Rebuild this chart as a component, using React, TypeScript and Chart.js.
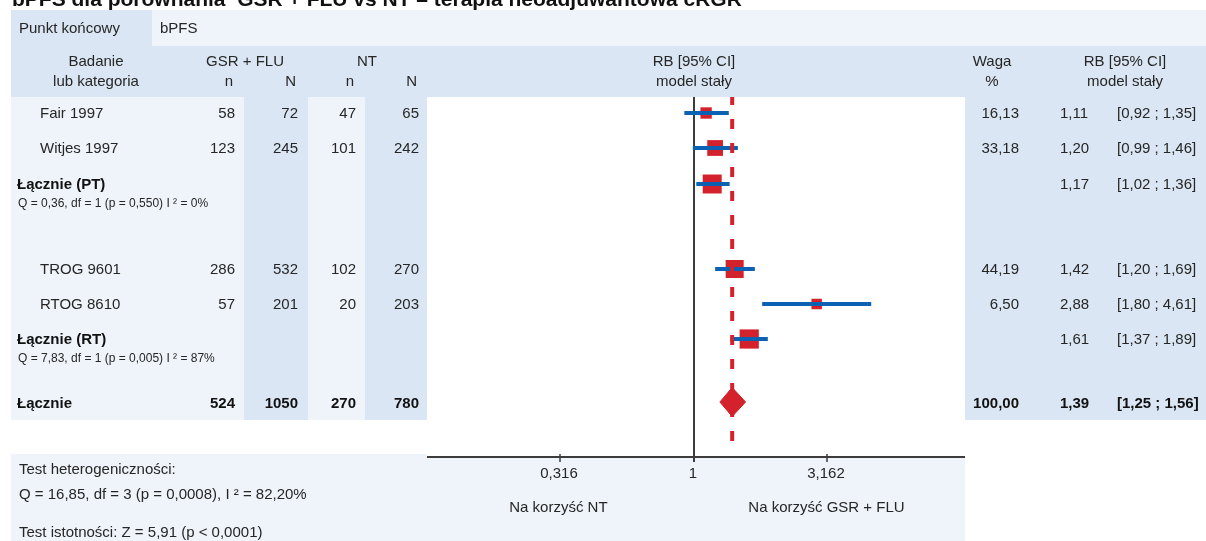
import React, { useEffect, useRef } from "react";
import { Chart, registerables } from "chart.js";

Chart.register(...registerables);

// ---------- data ----------
const titleText = "bPFS dla porównania  GSR + FLU vs NT – terapia neoadjuwantowa cRGR";
const endpointLabel = "Punkt końcowy";
const endpointValue = "bPFS";

const studyNames = ["Fair 1997", "Witjes 1997", "TROG 9601", "RTOG 8610"];
const gsrEvents = [58, 123, 286, 57];
const gsrTotal = [72, 245, 532, 201];
const ntEvents = [47, 101, 102, 20];
const ntTotal = [65, 242, 270, 203];
const studyWeights = [16.13, 33.18, 44.19, 6.5];
const studyRb = [1.11, 1.2, 1.42, 2.88];
const studyLow = [0.92, 0.99, 1.2, 1.8];
const studyHigh = [1.35, 1.46, 1.69, 4.61];
const studyGroup = [0, 0, 1, 1];

const subgroupNames = ["Łącznie (PT)", "Łącznie (RT)"];
const subgroupRb = [1.17, 1.61];
const subgroupLow = [1.02, 1.37];
const subgroupHigh = [1.36, 1.89];
const subgroupStats = [
  "Q = 0,36, df = 1 (p = 0,550) I ² = 0%",
  "Q = 7,83, df = 1 (p = 0,005) I ² = 87%",
];

const totalName = "Łącznie";
const totalCounts = [524, 1050, 270, 780];
const totalWeight = 100.0;
const totalRb = 1.39;
const totalLow = 1.25;
const totalHigh = 1.56;

const xTicks = [0.316, 1, 3.162];
const favourLeft = "Na korzyść NT";
const favourRight = "Na korzyść GSR + FLU";

const footerLines = [
  "Test heterogeniczności:",
  "Q = 16,85, df = 3 (p = 0,0008), I ² = 82,20%",
  "Test istotności: Z = 5,91 (p < 0,0001)",
];

// ---------- layout / style ----------
const W = 1206;
const H = 541;
const PLOT_LEFT = 427;
const PLOT_RIGHT = 961;
const PLOT_EDGE = 965;
const PLOT_TOP = 97;
const PLOT_BOTTOM = 457;

// vertical slot of each row inside the plot area (y-scale units)
const STUDY_ROWS = [16, 51, 172, 207];
const SUBGROUP_ROWS = [87, 242];
const TOTAL_ROW = 305;
const DIAMOND_HALF = 14.5;
const OVERALL_LINE_END = 348;

const COUNT_RIGHT = [235, 298, 356, 419];
const WEIGHT_RIGHT = 1019;
const EST_LEFT = 1060;
const CI_LEFT = 1117;

const DARK = "#dae6f3";
const LIGHT = "#eef4fa";
const RED = "#d3222c";
const BLUE = "#0b62b2";
const AXIS = "#3c3c3c";
const TEXT = "#262626";
const FAMILY = '"Liberation Sans", Arial, Helvetica, sans-serif';
const F = `15px ${FAMILY}`;
const FB = `bold 15px ${FAMILY}`;
const FS = `12px ${FAMILY}`;

const fmt2 = (v: number) => v.toFixed(2).replace(".", ",");
const fmtCi = (lo: number, hi: number) => `[${fmt2(lo)} ; ${fmt2(hi)}]`;
const fmtTick = (v: number) => String(v).replace(".", ",");
const squareSide = (w: number) => Math.max(10.5, 1.2 + 2.53 * Math.sqrt(w));

const subgroupWeights = subgroupNames.map((_, g) =>
  studyWeights.reduce((s, w, i) => (studyGroup[i] === g ? s + w : s), 0)
);

function text(
  ctx: CanvasRenderingContext2D,
  s: string,
  x: number,
  y: number,
  align: CanvasTextAlign,
  font: string,
  color = TEXT
) {
  ctx.font = font;
  ctx.textAlign = align;
  ctx.textBaseline = "middle";
  ctx.fillStyle = color;
  ctx.fillText(s, x, y);
}

const forestFrame = {
  id: "forestFrame",
  beforeDraw(chart: any) {
    const ctx: CanvasRenderingContext2D = chart.ctx;
    const { left, top, bottom } = chart.chartArea;
    const rect = (c: string, x: number, y: number, w: number, h: number) => {
      ctx.fillStyle = c;
      ctx.fillRect(x, y, w, h);
    };
    ctx.save();
    rect("#ffffff", 0, 0, W, H);
    // endpoint row
    rect(LIGHT, 152, 10, W - 152, 36);
    rect(DARK, 11, 10, 141, 36);
    // column headers
    rect(DARK, 11, 46, W - 11, top - 46);
    // table body
    rect(LIGHT, 11, top, left - 11, 420 - top);
    rect(DARK, 244, top, 64, 420 - top);
    rect(DARK, 365, top, left - 365, 420 - top);
    rect(DARK, PLOT_EDGE, top, W - PLOT_EDGE, 420 - top);
    // footer
    rect(LIGHT, 11, 454, PLOT_EDGE - 11, H - 454);
    rect("#ffffff", left, top, PLOT_EDGE - left, bottom - top);
    ctx.restore();
  },
  beforeDatasetsDraw(chart: any) {
    const ctx: CanvasRenderingContext2D = chart.ctx;
    const xs = chart.scales.x;
    const { left, top, bottom } = chart.chartArea;
    ctx.save();
    ctx.strokeStyle = AXIS;
    ctx.lineWidth = 2;
    // x axis
    ctx.beginPath();
    ctx.moveTo(left, bottom);
    ctx.lineTo(PLOT_EDGE, bottom);
    ctx.stroke();
    // line of no effect
    const x1 = Math.round(xs.getPixelForValue(1));
    ctx.beginPath();
    ctx.moveTo(x1, top);
    ctx.lineTo(x1, bottom + 5);
    ctx.stroke();
    // ticks + labels
    ctx.lineWidth = 1.5;
    xTicks.forEach((t) => {
      const px = Math.round(xs.getPixelForValue(t));
      ctx.beginPath();
      ctx.moveTo(px, bottom - 3);
      ctx.lineTo(px, bottom + 5);
      ctx.stroke();
      text(ctx, fmtTick(t), px - 1, 474, "center", F);
    });
    text(ctx, favourLeft, xs.getPixelForValue(xTicks[0]) - 2, 508, "center", F);
    text(ctx, favourRight, xs.getPixelForValue(xTicks[2]) - 1, 508, "center", F);
    ctx.restore();
  },
  afterDraw(chart: any) {
    const ctx: CanvasRenderingContext2D = chart.ctx;
    const ys = chart.scales.y;
    const rowY = (v: number) => ys.getPixelForValue(v) + 1;
    ctx.save();
    // title (partly above the page edge)
    ctx.font = `bold 21px ${FAMILY}`;
    ctx.textAlign = "left";
    ctx.textBaseline = "alphabetic";
    ctx.fillStyle = "#111111";
    ctx.fillText(titleText, 12, 6);

    text(ctx, endpointLabel, 19, 29, "left", F);
    text(ctx, endpointValue, 160, 29, "left", F);

    // headers
    text(ctx, "Badanie", 96, 62, "center", F);
    text(ctx, "lub kategoria", 96, 82, "center", F);
    text(ctx, "GSR + FLU", 245, 62, "center", F);
    text(ctx, "NT", 367, 62, "center", F);
    ["n", "N", "n", "N"].forEach((h, i) => text(ctx, h, COUNT_RIGHT[i] - 2, 82, "right", F));
    text(ctx, "RB [95% CI]", 694, 62, "center", F);
    text(ctx, "model stały", 694, 82, "center", F);
    text(ctx, "Waga", 992, 62, "center", F);
    text(ctx, "%", 992, 82, "center", F);
    text(ctx, "RB [95% CI]", 1125, 62, "center", F);
    text(ctx, "model stały", 1125, 82, "center", F);

    // individual studies
    studyNames.forEach((name, i) => {
      const y = rowY(STUDY_ROWS[i]);
      text(ctx, name, 40, y, "left", F);
      [gsrEvents[i], gsrTotal[i], ntEvents[i], ntTotal[i]].forEach((v, c) =>
        text(ctx, String(v), COUNT_RIGHT[c], y, "right", F)
      );
      text(ctx, fmt2(studyWeights[i]), WEIGHT_RIGHT, y, "right", F);
      text(ctx, fmt2(studyRb[i]), EST_LEFT, y, "left", F);
      text(ctx, fmtCi(studyLow[i], studyHigh[i]), CI_LEFT, y, "left", F);
    });

    // subgroups
    subgroupNames.forEach((name, g) => {
      const y = rowY(SUBGROUP_ROWS[g]);
      text(ctx, name, 17, y, "left", FB, "#111111");
      text(ctx, subgroupStats[g], 18, y + 19, "left", FS);
      text(ctx, fmt2(subgroupRb[g]), EST_LEFT, y, "left", F);
      text(ctx, fmtCi(subgroupLow[g], subgroupHigh[g]), CI_LEFT, y, "left", F);
    });

    // overall
    const yt = rowY(TOTAL_ROW) + 1;
    text(ctx, totalName, 17, yt, "left", FB, "#111111");
    totalCounts.forEach((v, c) => text(ctx, String(v), COUNT_RIGHT[c], yt, "right", FB, "#111111"));
    text(ctx, fmt2(totalWeight), WEIGHT_RIGHT, yt, "right", FB, "#111111");
    text(ctx, fmt2(totalRb), EST_LEFT, yt, "left", FB, "#111111");
    text(ctx, fmtCi(totalLow, totalHigh), CI_LEFT, yt, "left", FB, "#111111");

    // footer
    text(ctx, footerLines[0], 19, 470, "left", F);
    text(ctx, footerLines[1], 19, 495, "left", F);
    text(ctx, footerLines[2], 19, 533, "left", F);
    ctx.restore();
  },
};

export default function App() {
  const canvasRef = useRef<HTMLCanvasElement | null>(null);

  useEffect(() => {
    const canvas = canvasRef.current;
    if (!canvas) return;

    const squares = [
      ...studyRb.map((v, i) => ({ x: v, y: STUDY_ROWS[i] })),
      ...subgroupRb.map((v, g) => ({ x: v, y: SUBGROUP_ROWS[g] })),
    ];
    const squareRadii = [
      ...studyWeights.map((w) => squareSide(w) / Math.SQRT2),
      ...subgroupWeights.map((w) => squareSide(w) / Math.SQRT2),
    ];

    const ciRows = [
      ...studyLow.map((lo, i) => ({ lo, hi: studyHigh[i], y: STUDY_ROWS[i] })),
      ...subgroupLow.map((lo, g) => ({ lo, hi: subgroupHigh[g], y: SUBGROUP_ROWS[g] })),
    ];

    const ciDatasets = ciRows.map((r) => ({
      type: "line" as const,
      data: [
        { x: r.lo, y: r.y },
        { x: r.hi, y: r.y },
      ],
      borderColor: BLUE,
      borderWidth: 4,
      borderCapStyle: "butt" as const,
      pointRadius: 0,
      fill: false,
      order: 2,
    }));

    const chart = new Chart(canvas, {
      type: "scatter",
      data: {
        datasets: [
          {
            type: "scatter",
            data: squares,
            pointStyle: "rect",
            pointRadius: squareRadii,
            backgroundColor: RED,
            borderWidth: 0,
            order: 3,
          },
          ...ciDatasets,
          {
            type: "line",
            data: [
              { x: totalLow, y: TOTAL_ROW },
              { x: totalRb, y: TOTAL_ROW - DIAMOND_HALF },
              { x: totalHigh, y: TOTAL_ROW },
              { x: totalRb, y: TOTAL_ROW + DIAMOND_HALF },
              { x: totalLow, y: TOTAL_ROW },
            ],
            borderColor: RED,
            backgroundColor: RED,
            borderWidth: 1,
            pointRadius: 0,
            tension: 0,
            fill: "shape",
            order: 1,
          },
          {
            type: "line",
            data: [
              { x: totalRb, y: 0 },
              { x: totalRb, y: OVERALL_LINE_END },
            ],
            borderColor: RED,
            borderWidth: 4,
            borderDash: [10, 14],
            borderDashOffset: 2,
            borderCapStyle: "butt",
            pointRadius: 0,
            fill: false,
            order: 0,
          },
        ] as any,
      },
      options: {
        responsive: false,
        animation: false,
        devicePixelRatio: 1,
        events: [],
        layout: {
          padding: {
            left: PLOT_LEFT,
            right: W - PLOT_RIGHT,
            top: PLOT_TOP,
            bottom: H - PLOT_BOTTOM,
          },
        },
        plugins: {
          legend: { display: false },
          tooltip: { enabled: false },
          title: { display: false },
        },
        scales: {
          x: { type: "logarithmic", min: 0.1, max: 10, display: false },
          y: { type: "linear", min: 0, max: 360, reverse: true, display: false },
        },
      },
      plugins: [forestFrame],
    });

    return () => chart.destroy();
  }, []);

  return (
    <div
      style={{
        position: "fixed",
        left: 0,
        top: 0,
        width: W,
        height: H,
        background: "#ffffff",
      }}
    >
      <canvas ref={canvasRef} width={W} height={H} style={{ display: "block" }} />
    </div>
  );
}
